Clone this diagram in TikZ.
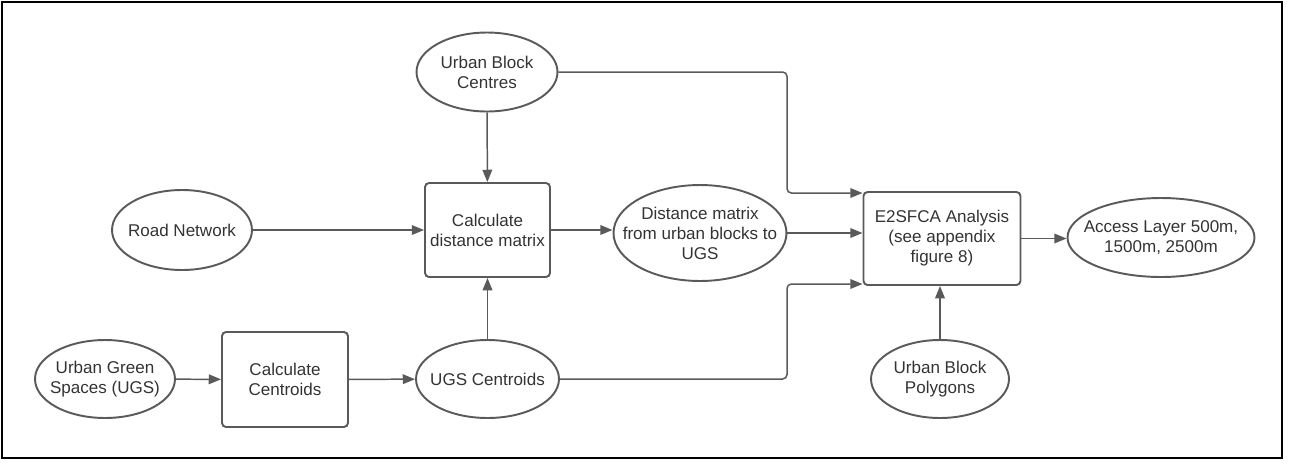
\documentclass[tikz,border=0pt]{standalone}
\usepackage{fontspec}
\setmainfont{Liberation Sans}
\usetikzlibrary{shapes.geometric,arrows.meta}

\definecolor{lgray}{HTML}{5A5A5A}
\definecolor{tgray}{HTML}{333333}

\tikzstyle{txt} = [text centered, align=center, inner sep=0pt, text=tgray]
\tikzstyle{oval} = [ellipse, draw=lgray, line width=1.1pt, inner sep=0pt]
\tikzstyle{proc} = [rectangle, rounded corners=2.3pt, draw=lgray, line width=1.1pt, txt]
\tikzstyle{arr} = [-{Triangle[length=7pt,width=5.5pt]}, draw=lgray, line width=0.85pt, rounded corners=2.5pt]

\begin{document}
\begin{tikzpicture}[x=0.02cm, y=-0.02cm,
font=\fontsize{9.7pt}{11.4pt}\selectfont,
]
\useasboundingbox (0,0) rectangle (1289,464);
\draw[line width=1.13pt] (2,2) rectangle (1282,458);

% inputs
\node[oval, minimum width=2.82cm, minimum height=1.58cm, label={[txt]center:Urban Block\\Centres}] (ubc) at (487,72) {};
\node[oval, minimum width=2.8cm, minimum height=1.6cm, label={[txt]center:Road Network}] (road) at (182,230) {};
\node[oval, minimum width=2.8cm, minimum height=1.56cm, label={[txt]center:Urban Green\\Spaces (UGS)}] (ugs) at (105,379) {};
\node[oval, minimum width=2.76cm, minimum height=1.56cm, label={[txt]center:Urban Block\\Polygons}] (ubp) at (940,379) {};

% processing
\node[proc, minimum width=2.5cm, minimum height=1.88cm] (cdm) at (487.5,230) {Calculate\\distance matrix};
\node[proc, minimum width=2.52cm, minimum height=1.9cm] (cc) at (285,379.5) {Calculate\\Centroids};
\node[oval, minimum width=2.86cm, minimum height=1.56cm, label={[txt]center:UGS Centroids}] (ugsc) at (487.5,379) {};
\node[oval, minimum width=3.46cm, minimum height=1.92cm, label={[txt]center:Distance matrix\\from urban blocks to\\UGS}] (dm) at (700,233) {};
\node[proc, minimum width=3.14cm, minimum height=1.86cm] (e2) at (942,238.5) {E2SFCA Analysis\\(see appendix\\figure 8)};

% output
\node[oval, minimum width=3.74cm, minimum height=1.58cm, label={[txt]center:Access Layer 500m,\\1500m, 2500m}] (acc) at (1161,237.5) {};

\coordinate (ka) at (787,193);
\coordinate (kb) at (787,284);

\draw[arr] (ubc) -- (cdm);
\draw[arr] (road) -- (cdm);
\draw[arr] (ugsc) -- (cdm);
\draw[arr] (ugs) -- (cc);
\draw[arr] (cc) -- (ugsc);
\draw[arr] (cdm.east) -- (cdm.east -| dm.west);
\draw[arr] (dm.east) -- (dm.east -| e2.west);
\draw[arr] (ubc.east) -| (ka) -- (ka -| e2.west);
\draw[arr] (ugsc.east) -| (kb) -- (kb -| e2.west);
\draw[arr] (ubp.north) -- (ubp.north |- e2.south);
\draw[arr] (e2.east) -- (e2.east -| acc.west);

\end{tikzpicture}
\end{document}
